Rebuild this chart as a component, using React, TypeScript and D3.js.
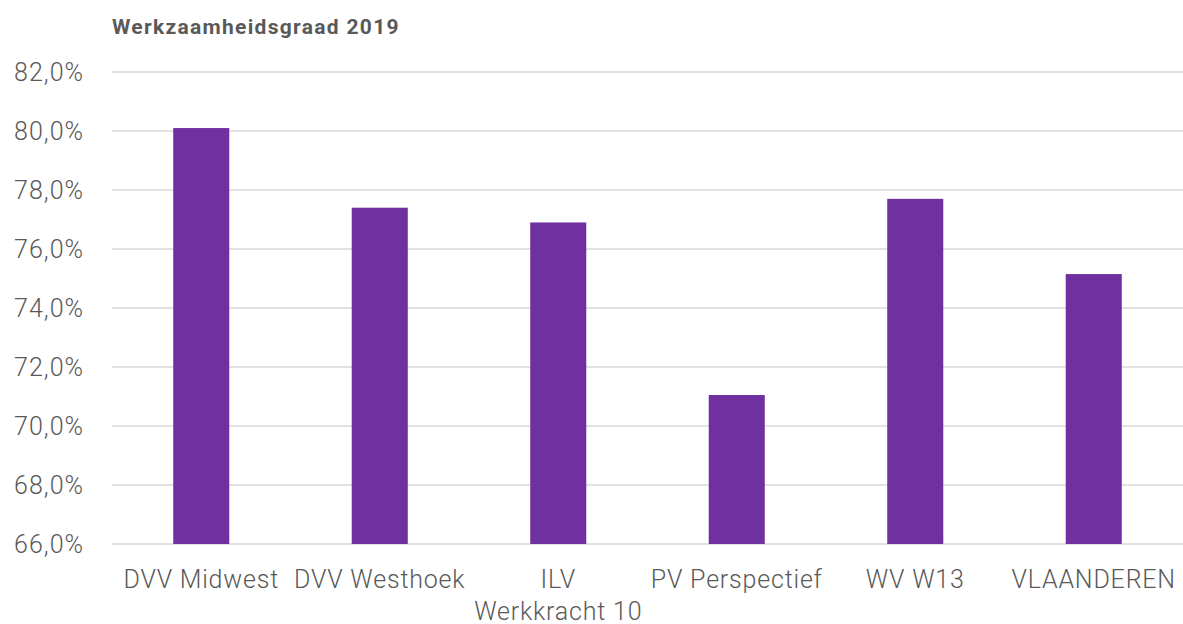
import * as React from 'react';
import * as d3 from 'd3';

const categories = ['DVV Midwest', 'DVV Westhoek', 'ILV Werkkracht 10', 'PV Perspectief', 'WV W13', 'VLAANDEREN'];
const values = [80.1, 77.4, 76.9, 71.05, 77.7, 75.15];
const yTicks = [66, 68, 70, 72, 74, 76, 78, 80, 82];
const title = 'Werkzaamheidsgraad 2019';

const W = 1183;
const H = 624;
const FONT = 'Roboto, "Noto Sans", sans-serif';

// labels wider than the band: first word on line one, the rest below (like Excel does here)
function wrap(sel, width) {
  sel.each(function () {
    const text = d3.select(this);
    const label = text.text();
    const x = text.attr('x');
    const y = +text.attr('y');
    if (text.node().getComputedTextLength() <= width) return;
    const words = label.split(/\s+/);
    text.text(null);
    text.append('tspan').attr('x', x).attr('y', y).text(words[0]);
    text.append('tspan').attr('x', x).attr('y', y + 32).text(words.slice(1).join(' '));
  });
}

export default function App() {
  const ref = React.useRef(null);

  React.useEffect(() => {
    const svg = d3.select(ref.current);
    svg.selectAll('*').remove();

    const left = 112;
    const right = W;
    const top = 72;
    const bottom = 544;

    const x = d3.scaleBand()
      .domain(categories)
      .range([left, right])
      .paddingInner(0.686)
      .paddingOuter(0.343);

    const y = d3.scaleLinear()
      .domain([66, 82])
      .range([bottom, top]);

    svg.append('text')
      .attr('x', 112)
      .attr('y', 34)
      .attr('font-family', FONT)
      .attr('font-weight', 'bold')
      .attr('font-size', '21px')
      .attr('letter-spacing', 1.3)
      .attr('fill', '#595959')
      .text(title);

    // grid
    svg.append('g')
      .selectAll('line')
      .data(yTicks)
      .enter()
      .append('line')
      .attr('x1', left)
      .attr('x2', right)
      .attr('y1', (d) => y(d))
      .attr('y2', (d) => y(d))
      .attr('stroke', '#d9d9d9')
      .attr('stroke-width', 1.5);

    svg.append('g')
      .selectAll('text')
      .data(yTicks)
      .enter()
      .append('text')
      .attr('x', 84)
      .attr('y', (d) => y(d))
      .attr('dy', '0.36em')
      .attr('text-anchor', 'end')
      .attr('font-family', FONT)
      .attr('font-weight', 300)
      .attr('font-size', '25px')
      .attr('letter-spacing', 1)
      .attr('fill', '#595959')
      .text((d) => d3.format('.1f')(d).replace('.', ',') + '%');

    svg.append('g')
      .selectAll('rect')
      .data(values)
      .enter()
      .append('rect')
      .attr('x', (d, i) => x(categories[i]))
      .attr('width', x.bandwidth())
      .attr('y', (d) => y(d))
      .attr('height', (d) => bottom - y(d))
      .attr('fill', '#7030a0');

    svg.append('g')
      .selectAll('text')
      .data(categories)
      .enter()
      .append('text')
      .attr('x', (d) => x(d) + x.bandwidth() / 2)
      .attr('y', 588)
      .attr('text-anchor', 'middle')
      .attr('font-family', FONT)
      .attr('font-weight', 300)
      .attr('font-size', '25px')
      .attr('letter-spacing', 0.8)
      .attr('fill', '#595959')
      .text((d) => d)
      .call(wrap, x.step());
  }, []);

  return (
    <svg
      ref={ref}
      width={W}
      height={H}
      style={{ position: 'absolute', left: 0, top: 0, background: '#fff' }}
    />
  );
}
